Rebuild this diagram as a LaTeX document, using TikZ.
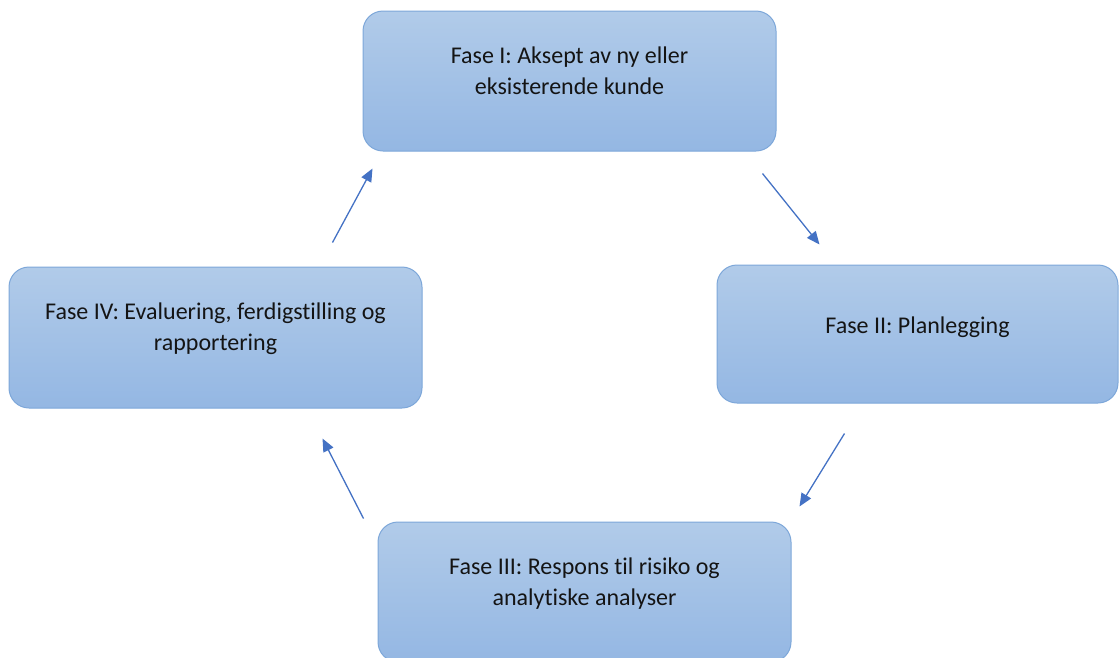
\documentclass[tikz,border=0pt]{standalone}
\usepackage{fontspec}
\setmainfont{Carlito}[Ligatures={NoCommon, NoContextual}]
\usepackage{tikz}
\usetikzlibrary{positioning, arrows.meta}

\definecolor{faseTop}{HTML}{B1CBE9}
\definecolor{faseBot}{HTML}{94B7E3}
\definecolor{faseLine}{HTML}{7DA7D9}
\definecolor{pilBlue}{HTML}{4472C4}

\begin{document}
\begin{tikzpicture}[
        x=1pt, y=-1pt,
        fase/.style = {draw=faseLine, line width=1pt, rounded corners=20pt, top color=faseTop, bottom color=faseBot,
                       minimum width=413pt, minimum height=140pt, align=center, text=black!92,
                       font=\fontsize{24}{31}\selectfont, text height=48pt, text depth=22pt},
        oneline/.style = {text height=17pt, text depth=19pt},
        arrow/.style = {-{Triangle[length=13pt, width=11pt]}, draw=pilBlue, line width=1.3pt}
        ]
        \useasboundingbox (0,0) rectangle (1119,657);

        % Faser
        \node[fase] (aksept) at (569.5,81) {Fase I: Aksept av ny eller\\eksisterende kunde};
        \node[fase, oneline, minimum width=401pt, minimum height=138pt] (plan) at (917.5,334) {Fase II: Planlegging};
        \node[fase] (respons) at (584.5,592) {Fase III: Respons til risiko og\\analytiske analyser};
        \node[fase, minimum height=141pt] (evaluering) at (215.5,337.5) {Fase IV: Evaluering, ferdigstilling og\\rapportering};

        % Piler
        \draw[arrow] ([shift={(-14,22)}]aksept.south east) -- ([shift={(103,-20)}]plan.north west);
        \draw[arrow] ([shift={(128,30)}]plan.south west) -- ([shift={(8,-15)}]respons.north east);
        \draw[arrow] ([shift={(-14,-3)}]respons.north west) -- ([shift={(-100,30)}]evaluering.south east);
        \draw[arrow] ([shift={(-90,-24)}]evaluering.north east) -- ([shift={(10,17)}]aksept.south west);

\end{tikzpicture}
\end{document}
